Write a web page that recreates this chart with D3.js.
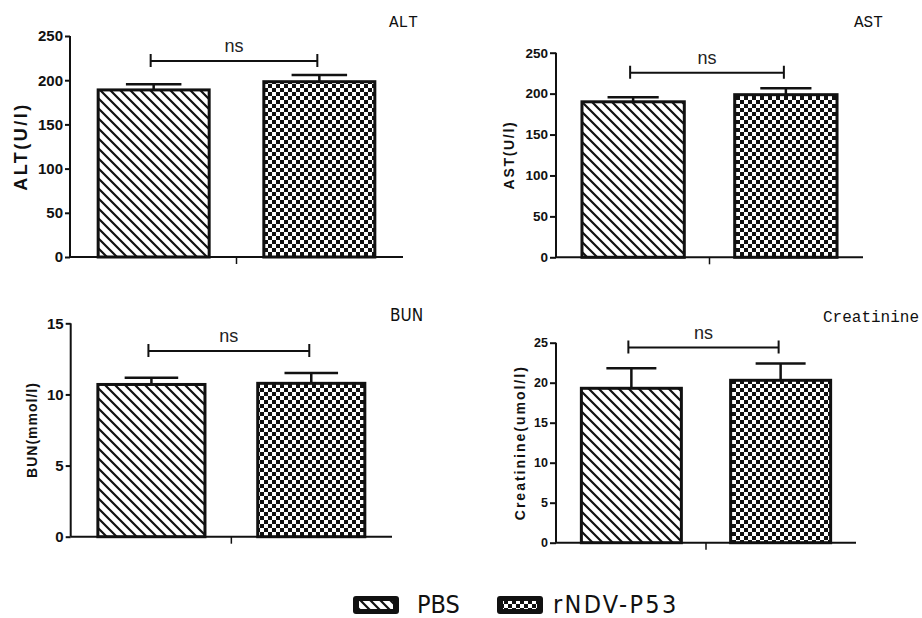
<!DOCTYPE html>
<html><head><meta charset="utf-8">
<script src="https://cdn.jsdelivr.net/npm/d3@7"></script>
<style>body{margin:0;background:#fff}svg{display:block}</style>
</head><body>
<svg id="chart" width="922" height="618"></svg>
<script>
// ---- data ----
const panelNames = ["ALT", "AST", "BUN", "Creatinine"];
const groups = ["PBS", "rNDV-P53"];
const pbsMean = [189, 190, 10.7, 19.3];
const pbsErr = [6.5, 5.7, 0.47, 2.5];
const rndvMean = [198.3, 198.7, 10.78, 20.3];
const rndvErr = [7.7, 7.8, 0.72, 2.1];
const yMaxes = [250, 250, 15, 25];
const tickSteps = [50, 50, 5, 5];
const yTitles = ["ALT(U/l)", "AST(U/l)", "BUN(mmol/l)", "Creatinine(umol/l)"];
const sigLabels = ["ns", "ns", "ns", "ns"];
const bracketLevels = [221.7, 225.6, 13.05, 24.4];

// ---- layout ----
const layouts = [
  {x0:70, x1:403, yTop:36, yBot:257, tickFont:15, tickSize:5,
   title:{x:389, y:27, font:"'Liberation Mono', monospace", size:16},
   ylab:{x:21, font:"'Liberation Sans', Arial, sans-serif", size:18, ls:2.5}},
  {x0:556, x1:863, yTop:52.7, yBot:257.3, tickFont:13.5, tickSize:6,
   title:{x:854, y:27, font:"'Liberation Mono', monospace", size:16},
   ylab:{x:509, font:"'Liberation Sans', Arial, sans-serif", size:14, ls:1.7}},
  {x0:70.7, x1:392, yTop:323.3, yBot:536.7, tickFont:15, tickSize:5,
   title:{x:390, y:321, font:"'Liberation Sans Narrow', 'DejaVu Sans Condensed', sans-serif", size:17},
   ylab:{x:32, font:"'Liberation Sans', Arial, sans-serif", size:14, ls:1}},
  {x0:556, x1:856, yTop:342.7, yBot:542.7, tickFont:12.5, tickSize:6,
   title:{x:823, y:322, font:"'Liberation Mono', monospace", size:16},
   ylab:{x:520, font:"'Liberation Sans', Arial, sans-serif", size:14, ls:2}}
];

const svg = d3.select("#chart");
const defs = svg.append("defs");

// hatch pattern (PBS)
const hatch = defs.append("pattern").attr("id", "hatch")
  .attr("patternUnits", "userSpaceOnUse").attr("width", 10).attr("height", 10);
hatch.append("rect").attr("width", 10).attr("height", 10).attr("fill", "#fff");
hatch.append("path").attr("d", "M0,0 L10,10 M-3,7 L3,13 M7,-3 L13,3")
  .attr("stroke", "#111").attr("stroke-width", 2.2).attr("fill", "none");

// checker pattern (rNDV-P53)
const check = defs.append("pattern").attr("id", "check")
  .attr("patternUnits", "userSpaceOnUse").attr("width", 8).attr("height", 8);
check.append("rect").attr("width", 8).attr("height", 8).attr("fill", "#fff");
check.append("rect").attr("width", 4).attr("height", 4).attr("fill", "#111");
check.append("rect").attr("x", 4).attr("y", 4).attr("width", 4).attr("height", 4).attr("fill", "#111");

const fills = ["url(#hatch)", "url(#check)"];
const tickFontFamily = "'Liberation Sans', Arial, sans-serif";

panelNames.forEach((name, i) => {
  const L = layouts[i];
  const g = svg.append("g");
  const y = d3.scaleLinear().domain([0, yMaxes[i]]).range([L.yBot, L.yTop]);
  const x = d3.scaleBand().domain(groups).range([L.x0, L.x1])
    .paddingInner(0.33).paddingOuter(0.17);

  const means = [pbsMean[i], rndvMean[i]];
  const errs = [pbsErr[i], rndvErr[i]];
  const rows = groups.map((gname, k) => ({g: gname, m: means[k], e: errs[k], fill: fills[k]}));

  // y axis
  const yAxis = d3.axisLeft(y).tickValues(d3.range(0, yMaxes[i] + 1e-9, tickSteps[i]))
    .tickSize(L.tickSize).tickPadding(2).tickFormat(d3.format("d"));
  const ya = g.append("g").attr("transform", `translate(${L.x0},0)`).call(yAxis);
  ya.select(".domain").attr("stroke", "#111").attr("stroke-width", 2).attr("d", `M0,${L.yBot}V${L.yTop}`);
  ya.selectAll(".tick line").attr("stroke", "#111").attr("stroke-width", 2);
  ya.selectAll(".tick text").attr("fill", "#111").attr("font-family", tickFontFamily)
    .style("font-weight", "bold").attr("font-size", L.tickFont);

  // x axis
  const xa = g.append("g").attr("transform", `translate(0,${L.yBot})`)
    .call(d3.axisBottom(x).tickSize(0).tickFormat(""));
  xa.select(".domain").attr("stroke", "#111").attr("stroke-width", 2).attr("d", `M${L.x0},0H${L.x1}`);
  xa.selectAll(".tick").remove();
  xa.append("line").attr("x1", (L.x0 + L.x1) / 2).attr("x2", (L.x0 + L.x1) / 2)
    .attr("y1", 0).attr("y2", 7).attr("stroke", "#111").attr("stroke-width", 1.5);

  // error bars (upper only)
  rows.forEach(r => {
    const cx = x(r.g) + x.bandwidth() / 2;
    const w = x.bandwidth() / 2;
    g.append("line").attr("x1", cx).attr("x2", cx).attr("y1", y(r.m)).attr("y2", y(r.m + r.e))
      .attr("stroke", "#111").attr("stroke-width", 2.5);
    g.append("line").attr("x1", cx - w / 2).attr("x2", cx + w / 2)
      .attr("y1", y(r.m + r.e)).attr("y2", y(r.m + r.e))
      .attr("stroke", "#111").attr("stroke-width", 2.5);
  });

  // bars
  g.selectAll("rect.bar").data(rows).enter().append("rect").attr("class", "bar")
    .attr("x", d => x(d.g)).attr("width", x.bandwidth())
    .attr("y", d => y(d.m)).attr("height", d => y(0) - y(d.m))
    .attr("fill", d => d.fill).attr("stroke", "#111").attr("stroke-width", 3);

  // significance bracket
  const bx1 = x(groups[0]) + x.bandwidth() / 2 - 3;
  const bx2 = x(groups[1]) + x.bandwidth() / 2 - 2;
  const by = y(bracketLevels[i]);
  g.append("path").attr("d", `M${bx1},${by}H${bx2}M${bx1},${by - 7}V${by + 6}M${bx2},${by - 7}V${by + 6}`)
    .attr("stroke", "#111").attr("stroke-width", 2).attr("fill", "none");
  g.append("text").attr("x", (bx1 + bx2) / 2).attr("y", by - 9).attr("text-anchor", "middle")
    .attr("font-family", tickFontFamily).attr("font-size", 18).attr("fill", "#222")
    .text(sigLabels[i]);

  // panel title
  g.append("text").attr("x", L.title.x).attr("y", L.title.y)
    .attr("font-family", L.title.font).attr("font-size", L.title.size).attr("fill", "#111")
    .text(name);

  // y-axis title
  g.append("text").attr("transform", `translate(${L.ylab.x},${(L.yTop + L.yBot) / 2}) rotate(-90)`)
    .attr("text-anchor", "middle").attr("dominant-baseline", "central")
    .attr("font-family", L.ylab.font).attr("font-weight", "bold").attr("font-size", L.ylab.size)
    .attr("letter-spacing", L.ylab.ls).attr("fill", "#111")
    .text(yTitles[i]);
});

// legend
const legendLayout = [{bx:353, tx:417, ls:0}, {bx:497, tx:553, ls:2.3}];
const lg = svg.append("g");
groups.forEach((gname, k) => {
  const P = legendLayout[k];
  lg.append("rect").attr("x", P.bx).attr("y", 596).attr("width", 46).attr("height", 18)
    .attr("rx", 3).attr("fill", "#111");
  lg.append("rect").attr("x", P.bx + 6).attr("y", 601).attr("width", 34).attr("height", 8)
    .attr("fill", fills[k]);
  lg.append("text").attr("x", P.tx).attr("y", 613)
    .attr("font-family", "'Liberation Sans Narrow', 'DejaVu Sans Condensed', sans-serif")
    .attr("font-size", 25).attr("letter-spacing", P.ls).attr("fill", "#111").text(gname);
});
</script>
</body></html>
